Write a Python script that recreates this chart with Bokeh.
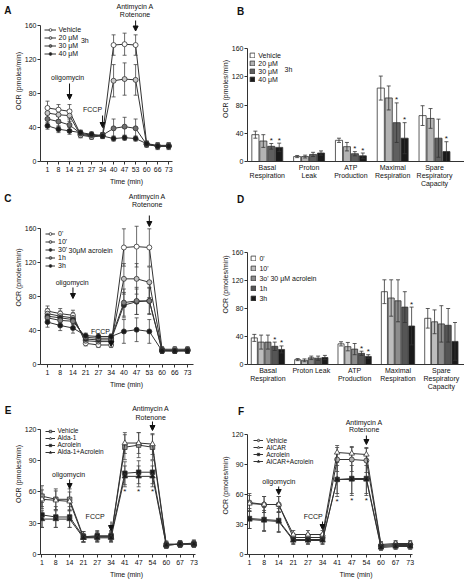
from bokeh.plotting import figure
from bokeh.layouts import row, column
from bokeh.models import (ColumnDataSource, FixedTicker, Range1d, Label, Arrow, NormalHead,
                          Whisker, TeeHead, Legend, LegendItem, LinearAxis, Title)
from bokeh.core.properties import value
from bokeh.embed import file_html
from bokeh.resources import INLINE

FONT = "Liberation Sans"
SX = 1.0
SY = 1.0

# ---------------- DATA ----------------
a_times = [1, 8, 14, 21, 27, 34, 40, 47, 53, 60, 66, 73]
a_vehicle = [63, 61, 59, 32, 30, 31, 137, 138, 137, 21, 19, 19]
a_20 = [57, 55, 54, 31, 29, 30, 95, 97, 96, 20, 18, 18]
a_30 = [50, 47, 43, 33, 31, 31, 39, 41, 39, 20, 18, 18]
a_40 = [42, 38, 36, 34, 32, 30, 27, 28, 27, 21, 18, 18]
a_vehicle_err = [8, 6, 8, 4, 3, 3, 12, 13, 12, 3, 3, 3]
a_20_err = [7, 6, 7, 3, 3, 3, 19, 19, 18, 3, 3, 3]
a_30_err = [6, 6, 6, 3, 3, 3, 11, 11, 11, 3, 3, 3]
a_40_err = [4, 4, 4, 3, 3, 3, 3, 3, 3, 3, 4, 4]
a_labels = ["Vehicle", "20 \u03bcM", "30 \u03bcM", "40 \u03bcM"]

b_categories = ["Basal\nRespiration", "Proton\nLeak", "ATP\nProduction",
                "Maximal\nRespiration", "Spare\nRespiratory\nCapacity"]
b_labels = ["Vehicle", "20 \u03bcM", "30 \u03bcM", "40 \u03bcM"]
b_vehicle = [38, 7, 30, 104, 65]
b_20 = [29, 7, 21, 90, 61]
b_30 = [21.5, 10, 11, 55, 33]
b_40 = [20, 12, 8, 33, 14]
b_vehicle_err = [5, 1.5, 3, 17, 14]
b_20_err = [9, 2, 6, 17, 14]
b_30_err = [4, 3, 3, 28, 27]
b_40_err = [6, 3, 4, 22, 14]
b_vehicle_sig = [0, 0, 0, 0, 0]
b_20_sig = [0, 0, 0, 0, 0]
b_30_sig = [1, 0, 1, 1, 0]
b_40_sig = [1, 0, 1, 1, 1]

c_times = [1, 8, 14, 21, 27, 34, 40, 47, 53, 60, 66, 73]
c_labels = ["0'", "10'", "30'", "1h", "3h"]
c_0 = [63, 60, 58, 25, 23, 23, 138, 139, 138, 18, 18, 18]
c_10 = [60, 57, 55, 28, 27, 27, 101, 101, 97, 17, 17, 17]
c_30 = [57, 55, 53, 30, 29, 29, 70, 74, 75, 17, 16, 17]
c_1h = [55, 52, 51, 32, 31, 31, 73, 75, 75, 16, 16, 16]
c_3h = [50, 46, 43, 34, 33, 33, 39, 41, 39, 16, 16, 16]
c_0_err = [6, 6, 6, 3, 3, 3, 22, 24, 22, 3, 3, 3]
c_10_err = [6, 6, 6, 3, 3, 3, 18, 18, 18, 3, 3, 3]
c_30_err = [6, 6, 6, 3, 3, 3, 15, 15, 15, 3, 3, 3]
c_1h_err = [6, 6, 6, 3, 3, 3, 16, 16, 16, 3, 3, 3]
c_3h_err = [6, 6, 6, 3, 3, 3, 14, 14, 14, 3, 3, 3]

d_categories = ["Basal\nRespiration", "Proton Leak", "ATP\nProduction",
                "Maximal\nRespiration", "Spare\nRespiratory\nCapacity"]
d_labels = ["0'", "10'", "3o' 30 \u03bcM acrolein", "1h", "3h"]
d_0 = [38, 7, 29.5, 104, 66]
d_10 = [32, 6, 25.5, 95, 61]
d_30 = [32, 9.5, 22, 91, 58]
d_1h = [26, 9, 16, 82, 56]
d_3h = [21.5, 10, 11.5, 55, 33]
d_0_err = [5, 1.5, 3, 17, 14]
d_10_err = [10, 2, 6, 26, 17]
d_30_err = [10, 2.5, 8, 30, 26]
d_1h_err = [6, 3, 3, 22, 24]
d_3h_err = [5, 3, 2.5, 27, 27]
d_0_sig = [0, 0, 0, 0, 0]
d_10_sig = [0, 0, 0, 0, 0]
d_30_sig = [0, 0, 0, 0, 0]
d_1h_sig = [1, 0, 1, 0, 0]
d_3h_sig = [1, 0, 1, 1, 0]

e_times = [1, 8, 14, 21, 27, 34, 41, 47, 54, 60, 67, 73]
e_labels = ["Vehicle", "Alda-1", "Acrolein", "Alda-1+Acrolein"]
e_vehicle = [56, 53, 53, 17, 17, 17, 103, 105, 103, 9, 10, 10]
e_alda = [53, 52, 51, 16, 17, 17, 107, 107, 106, 10, 10, 11]
e_acr = [38, 36, 36, 17, 18, 18, 78, 79, 79, 9, 10, 10]
e_aa = [34, 34, 34, 16, 16, 16, 75, 75, 75, 9, 10, 10]
e_vehicle_err = [10, 10, 10, 5, 5, 5, 12, 12, 12, 3, 3, 3]
e_alda_err = [9, 9, 9, 4, 4, 4, 10, 10, 10, 3, 3, 3]
e_acr_err = [12, 10, 10, 5, 5, 5, 11, 11, 11, 3, 3, 3]
e_aa_err = [8, 8, 8, 4, 4, 4, 10, 10, 10, 3, 3, 3]
e_sig = [0, 0, 0, 0, 0, 0, 1, 1, 1, 0, 0, 0]

f_times = [1, 8, 14, 21, 27, 34, 41, 47, 54, 60, 67, 73]
f_labels = ["Vehicle", "AICAR", "Acrolein", "AICAR+Acrolein"]
f_vehicle = [52, 50, 50, 17, 17, 17, 95, 95, 94, 9, 10, 10]
f_aicar = [51, 50, 50, 20, 20, 20, 102, 101, 100, 10, 11, 11]
f_acr = [36, 35, 34, 15, 15, 15, 75, 76, 76, 8, 9, 9]
f_aa = [35, 34, 33, 14, 14, 14, 75, 75, 75, 7, 8, 8]
f_vehicle_err = [9, 8, 8, 4, 4, 4, 12, 12, 12, 3, 3, 3]
f_aicar_err = [8, 8, 8, 4, 4, 4, 7, 7, 7, 3, 3, 3]
f_acr_err = [10, 12, 12, 4, 4, 4, 17, 17, 17, 3, 3, 3]
f_aa_err = [9, 10, 10, 4, 4, 4, 14, 14, 14, 3, 3, 3]
f_sig = [0, 0, 0, 0, 0, 0, 1, 1, 1, 0, 0, 0]

a_events = [14, 34, 53]
c_events = [14, 34, 53]
e_events = [14, 34, 54]
f_events = [14, 34, 54]

LINE = "#333333"
DARK = "#111111"


def px(v, s):
    return int(round(v * s))


def make_fig(box, frame, x0, dx, y0, k, fixed_outer=False, fs=7, axis_fs=7):
    bx0, by0, bx1, by1 = box
    fl, ft, fr, fb = frame
    bl = px(fl, SX) - px(bx0, SX)
    br = px(bx1, SX) - px(fr, SX)
    bt = px(ft, SY) - px(by0, SY)
    bb = px(by1, SY) - px(fb, SY)
    W = px(bx1, SX) - px(bx0, SX)
    FW = px(fr, SX) - px(fl, SX)
    FH = px(fb, SY) - px(ft, SY)
    xs, xe = (fl - x0) / dx, (fr - x0) / dx
    ys, ye = (y0 - fb) / k, (y0 - ft) / k
    size = dict(width=W) if fixed_outer else dict(frame_width=FW)
    p = figure(frame_height=FH, x_range=Range1d(xs, xe), y_range=Range1d(ys, ye),
               output_backend="svg", toolbar_location=None, title=None,
               min_border_left=bl, min_border_right=br, min_border_top=bt, min_border_bottom=bb,
               **size)
    p.outline_line_color = None
    p.xgrid.visible = False
    p.ygrid.visible = False
    p.background_fill_color = "white"
    p.border_fill_color = "white"
    for ax in (p.xaxis[0], p.yaxis[0]):
        ax.axis_line_color = LINE
        ax.axis_line_width = 1
        ax.major_tick_line_color = LINE
        ax.minor_tick_line_color = None
        ax.major_tick_out = 3
        ax.major_tick_in = 0
        ax.major_label_text_font = FONT
        ax.major_label_text_font_size = f"{fs}px"
        ax.major_label_text_color = DARK
        ax.axis_label_text_font = FONT
        ax.axis_label_text_font_size = f"{axis_fs}px"
        ax.axis_label_text_font_style = "normal"
        ax.axis_label_text_color = DARK
        ax.major_label_standoff = 2
        ax.axis_label_standoff = 2
    p.yaxis.major_label_standoff = 1
    p.yaxis.axis_label_standoff = 0
    geo = dict(rx=lambda xr: (xr - x0) / dx, ry=lambda yr: (y0 - yr) / k,
               fl=fl, ft=ft, fh=FH, xs=xs)
    return p, geo


def left_letter(p, geo, yr, letter):
    yv = geo["ry"](yr)
    ax = LinearAxis(ticker=FixedTicker(ticks=[yv]), major_label_overrides={yv: letter},
                    axis_line_color=None, major_tick_line_color=None, minor_tick_line_color=None,
                    major_tick_out=0, major_tick_in=0, major_label_standoff=0,
                    major_label_text_font=FONT, major_label_text_font_size="10px",
                    major_label_text_font_style="bold", major_label_text_color=DARK)
    p.add_layout(ax, "left")


def top_letter(p, letter, offset):
    p.add_layout(Title(text=letter, align="left", offset=offset, standoff=0, text_font=FONT,
                       text_font_size="10px", text_font_style="bold", text_color=DARK), "above")


def txt(p, geo, xr, yr, s, fs=7, align="center", bold=False):
    p.add_layout(Label(x=geo["rx"](xr), y=geo["ry"](yr), text=s, text_font=FONT,
                       text_font_size=f"{fs}px", text_align=align, text_baseline="middle",
                       text_font_style="bold" if bold else "normal", text_color=DARK))


def arrow(p, geo, i, y1r, y2r):
    p.add_layout(Arrow(x_start=i, y_start=geo["ry"](y1r), x_end=i, y_end=geo["ry"](y2r),
                       line_color=DARK, line_width=1,
                       end=NormalHead(size=5, fill_color=DARK, line_color=DARK, line_width=1)))


def add_legend(p, geo, items, gl_ref, top_ref, item_h_ref, gw, gh, fs=7, standoff=3):
    n = len(items)
    ih = int(round(item_h_ref * SY))
    lx = (gl_ref - geo["fl"]) * SX
    ly = geo["fh"] - (top_ref - geo["ft"]) * SY - n * ih
    leg = Legend(items=items, location=(lx, ly), orientation="vertical",
                 border_line_color=None, background_fill_alpha=0, padding=0, margin=0,
                 spacing=0, glyph_width=gw, glyph_height=gh, label_height=ih,
                 label_standoff=standoff, label_text_font=FONT, label_text_font_size=f"{fs}px",
                 label_text_baseline="middle", label_text_color=DARK)
    p.add_layout(leg)


def line_series(p, vals, errs, marker, fill, size):
    idx = list(range(len(vals)))
    src = ColumnDataSource(dict(x=idx, y=vals,
                                lo=[v - e for v, e in zip(vals, errs)],
                                hi=[v + e for v, e in zip(vals, errs)]))
    w = Whisker(source=src, base="x", upper="hi", lower="lo", line_color="#444", line_width=0.8,
                upper_head=TeeHead(size=4, line_color="#444", line_width=0.8),
                lower_head=TeeHead(size=4, line_color="#444", line_width=0.8))
    p.add_layout(w)
    r1 = p.line("x", "y", source=src, line_color=LINE, line_width=1)
    r2 = p.scatter("x", "y", source=src, marker=marker, size=size, fill_color=fill,
                   line_color=LINE, line_width=0.8)
    return [r1, r2]


def bar_series(p, vals, errs, sig, j, n, slot, width, color):
    xs = [i + 0.5 + (j - (n - 1) / 2) * slot for i in range(len(vals))]
    hi = [v + e for v, e in zip(vals, errs)]
    lo = [v - e for v, e in zip(vals, errs)]
    src = ColumnDataSource(dict(x=xs, top=vals, lo=lo, hi=hi))
    r = p.vbar(x="x", top="top", bottom=0, width=width, source=src, fill_color=color,
               line_color=LINE, line_width=0.8)
    w = Whisker(source=src, base="x", upper="hi", lower="lo", level="overlay",
                line_color="#333", line_width=0.8,
                upper_head=TeeHead(size=4, line_color="#333", line_width=0.8),
                lower_head=TeeHead(size=4, line_color="#333", line_width=0.8))
    p.add_layout(w)
    sx = [x for x, s in zip(xs, sig) if s]
    sy = [h for h, s in zip(hi, sig) if s]
    if sx:
        p.text(x=sx, y=sy, text=["*"] * len(sx), text_align="center", text_baseline="middle",
               y_offset=-3, text_font=value(FONT), text_font_size="8px", text_color=DARK)
    return r


def time_axes(p, geo, times, ymax, ystep, x_end_ref):
    p.xaxis.ticker = FixedTicker(ticks=list(range(len(times))))
    p.xaxis.major_label_overrides = {i: str(t) for i, t in enumerate(times)}
    p.xaxis.bounds = (geo["xs"], geo["rx"](x_end_ref))
    p.yaxis.ticker = FixedTicker(ticks=list(range(0, ymax + 1, ystep)))
    p.yaxis.bounds = (0, ymax)
    p.xaxis.axis_label = "Time (min)"
    p.yaxis.axis_label = "OCR (pmoles/min)"
    p.xaxis.axis_label_standoff = 3


def bar_axes(p, cats, ymax=160):
    p.xaxis.ticker = FixedTicker(ticks=[i + 0.5 for i in range(len(cats))])
    p.xaxis.major_label_overrides = {i + 0.5: c for i, c in enumerate(cats)}
    p.xaxis.major_tick_line_color = None
    p.xaxis.major_tick_out = 0
    p.xaxis.major_label_standoff = 2
    p.yaxis.ticker = FixedTicker(ticks=list(range(0, ymax + 1, 40)))
    p.yaxis.bounds = (0, ymax)
    p.yaxis.axis_label = "OCR (pmoles/min)"


# ---------------- PANEL A ----------------
pA, gA = make_fig((0, 0, 212, 190), (39.5, 0, 212, 161), 46.5, 11.05, 161, 0.85, fixed_outer=True)
time_axes(pA, gA, a_times, 160, 40, 172)
a_series = [(a_vehicle, a_vehicle_err, "circle", "white", 5),
            (a_20, a_20_err, "circle", "#c8c8c8", 5),
            (a_30, a_30_err, "circle", "#707070", 5),
            (a_40, a_40_err, "circle", "#1a1a1a", 5)]
itemsA = []
for (v, e, m, c, s), lab in zip(a_series, a_labels):
    itemsA.append(LegendItem(label=lab, renderers=line_series(pA, v, e, m, c, s)))
add_legend(pA, gA, itemsA, 43, 25.1, 7.8, 12, 7)
txt(pA, gA, 80, 40, "3h", align="left")
left_letter(pA, gA, 10, "A")
ev = [a_times.index(t) for t in a_events]
txt(pA, gA, 66.7, 77.3, "oligomycin"); arrow(pA, gA, ev[0], 83, 99)
txt(pA, gA, 91.7, 109.3, "FCCP"); arrow(pA, gA, ev[1], 115, 127)
txt(pA, gA, 134.3, 5.7, "Antimycin A"); txt(pA, gA, 134.3, 14, "Rotenone")
arrow(pA, gA, ev[2], 20, 30.5)

# ---------------- PANEL C ----------------
pC, gC = make_fig((0, 190, 212, 393), (40, 190, 212, 364), 47, 12.73, 364, 0.848, fixed_outer=True)
time_axes(pC, gC, c_times, 160, 40, 193)
c_series = [(c_0, c_0_err, "circle", "white", 5),
            (c_10, c_10_err, "circle", "#c0c0c0", 5),
            (c_30, c_30_err, "circle", "#2a2a2a", 5),
            (c_1h, c_1h_err, "circle", "#808080", 5),
            (c_3h, c_3h_err, "circle", "#1a1a1a", 5)]
itemsC = []
for (v, e, m, c, s), lab in zip(c_series, c_labels):
    itemsC.append(LegendItem(label=lab, renderers=line_series(pC, v, e, m, c, s)))
add_legend(pC, gC, itemsC, 45, 229, 8.5, 10, 7)
txt(pC, gC, 68, 250, "30\u03bcM acrolein", align="left")
left_letter(pC, gC, 198, "C")
ev = [c_times.index(t) for t in c_events]
txt(pC, gC, 71.7, 281.7, "oligomycin"); arrow(pC, gC, ev[0], 287, 298)
txt(pC, gC, 100, 330.7, "FCCP"); arrow(pC, gC, ev[1], 336, 346)
txt(pC, gC, 146.7, 195.5, "Antimycin A"); txt(pC, gC, 146.7, 204, "Rotenone")
arrow(pC, gC, ev[2], 215, 226)

# ---------------- PANEL E ----------------
pE, gE = make_fig((0, 393, 212, 580), (39.5, 393, 212, 554), 41, 13.85, 554, 1.0417, fixed_outer=True)
time_axes(pE, gE, e_times, 120, 30, 195)
e_series = [(e_vehicle, e_vehicle_err, "square", "#9a9a9a", 4.5),
            (e_alda, e_alda_err, "triangle", "white", 5.5),
            (e_acr, e_acr_err, "square", "#1a1a1a", 4.5),
            (e_aa, e_aa_err, "triangle", "#1a1a1a", 5.5)]
itemsE = []
for (v, e, m, c, s), lab in zip(e_series, e_labels):
    itemsE.append(LegendItem(label=lab, renderers=line_series(pE, v, e, m, c, s)))
add_legend(pE, gE, itemsE, 44, 431, 6.2, 10, 6, fs=6.5)
low = [min(s[0][i] - s[1][i] for s in e_series) for i in range(len(e_times))]
sx = [i for i, s in enumerate(e_sig) if s]
pE.text(x=sx, y=[low[i] for i in sx], text=["*"] * len(sx), text_align="center",
        text_baseline="middle", y_offset=5, text_font=value(FONT), text_font_size="8px",
        text_color=DARK)
left_letter(pE, gE, 410, "E")
ev = [e_times.index(t) for t in e_events]
txt(pE, gE, 67.7, 474, "oligomycin"); arrow(pE, gE, ev[0], 479, 488)
txt(pE, gE, 94.3, 516, "FCCP"); arrow(pE, gE, ev[1], 521, 530)
txt(pE, gE, 150, 408.3, "Antimycin A"); txt(pE, gE, 150, 416.7, "Rotenone")
arrow(pE, gE, ev[2], 421, 430)

# ---------------- PANEL B ----------------
pB, gB = make_fig((212, 0, 464, 191), (247, 16, 464, 161), 245.9, 41.8, 161, 0.706, fixed_outer=True)
bar_axes(pB, b_categories)
b_colors = ["white", "#b3b3b3", "#5f5f5f", "#1a1a1a"]
b_data = [(b_vehicle, b_vehicle_err, b_vehicle_sig), (b_20, b_20_err, b_20_sig),
          (b_30, b_30_err, b_30_sig), (b_40, b_40_err, b_40_sig)]
itemsB = []
for j, ((v, e, s), c, lab) in enumerate(zip(b_data, b_colors, b_labels)):
    r = bar_series(pB, v, e, s, j, 4, 0.19, 0.17, c)
    itemsB.append(LegendItem(label=lab, renderers=[r]))
add_legend(pB, gB, itemsB, 249.3, 51.3, 8.5, 6, 6)
txt(pB, gB, 284, 68.7, "3h", align="left")
top_letter(pB, "B", -10.5)

# ---------------- PANEL D ----------------
pD, gD = make_fig((212, 191, 464, 397), (247.3, 204, 464, 364), 246.05, 43.3, 364, 0.7, fixed_outer=True)
bar_axes(pD, d_categories)
d_colors = ["white", "#bdbdbd", "#8c8c8c", "#555555", "#1a1a1a"]
d_data = [(d_0, d_0_err, d_0_sig), (d_10, d_10_err, d_10_sig), (d_30, d_30_err, d_30_sig),
          (d_1h, d_1h_err, d_1h_sig), (d_3h, d_3h_err, d_3h_sig)]
itemsD = []
for j, ((v, e, s), c, lab) in enumerate(zip(d_data, d_colors, d_labels)):
    r = bar_series(pD, v, e, s, j, 5, 0.157, 0.14, c)
    itemsD.append(LegendItem(label=lab, renderers=[r]))
add_legend(pD, gD, itemsD, 250.7, 253.3, 10, 6, 6)
top_letter(pD, "D", -10.5)

# ---------------- PANEL F ----------------
pF, gF = make_fig((212, 397, 464, 580), (243.5, 416, 464, 554), 245.5, 14.85, 554, 1.0, fixed_outer=True)
time_axes(pF, gF, f_times, 120, 30, 411)
f_series = [(f_vehicle, f_vehicle_err, "circle", "#b0b0b0", 5),
            (f_aicar, f_aicar_err, "triangle", "white", 5.5),
            (f_acr, f_acr_err, "square", "#1a1a1a", 4.5),
            (f_aa, f_aa_err, "triangle", "#1a1a1a", 5.5)]
itemsF = []
for (v, e, m, c, s), lab in zip(f_series, f_labels):
    itemsF.append(LegendItem(label=lab, renderers=line_series(pF, v, e, m, c, s)))
add_legend(pF, gF, itemsF, 249.7, 436.5, 7, 10, 6, fs=6.5)
low = [min(s[0][i] - s[1][i] for s in f_series) for i in range(len(f_times))]
sx = [i for i, s in enumerate(f_sig) if s]
pF.text(x=sx, y=[low[i] for i in sx], text=["*"] * len(sx), text_align="center",
        text_baseline="middle", y_offset=5, text_font=value(FONT), text_font_size="8px",
        text_color=DARK)
top_letter(pF, "F", -9.5)
ev = [f_times.index(t) for t in f_events]
txt(pF, gF, 275.3, 480.7, "oligomycin"); arrow(pF, gF, ev[0], 486, 494)
txt(pF, gF, 310.3, 516, "FCCP"); arrow(pF, gF, ev[1], 521, 529)
txt(pF, gF, 362, 422.3, "Antimycin A"); txt(pF, gF, 362, 429.3, "Rotenone")
arrow(pF, gF, ev[2], 435, 444)

layout = row(column(pA, pC, pE, spacing=0), column(pB, pD, pF, spacing=0), spacing=0)
open("out.html", "w").write(file_html(layout, INLINE))
